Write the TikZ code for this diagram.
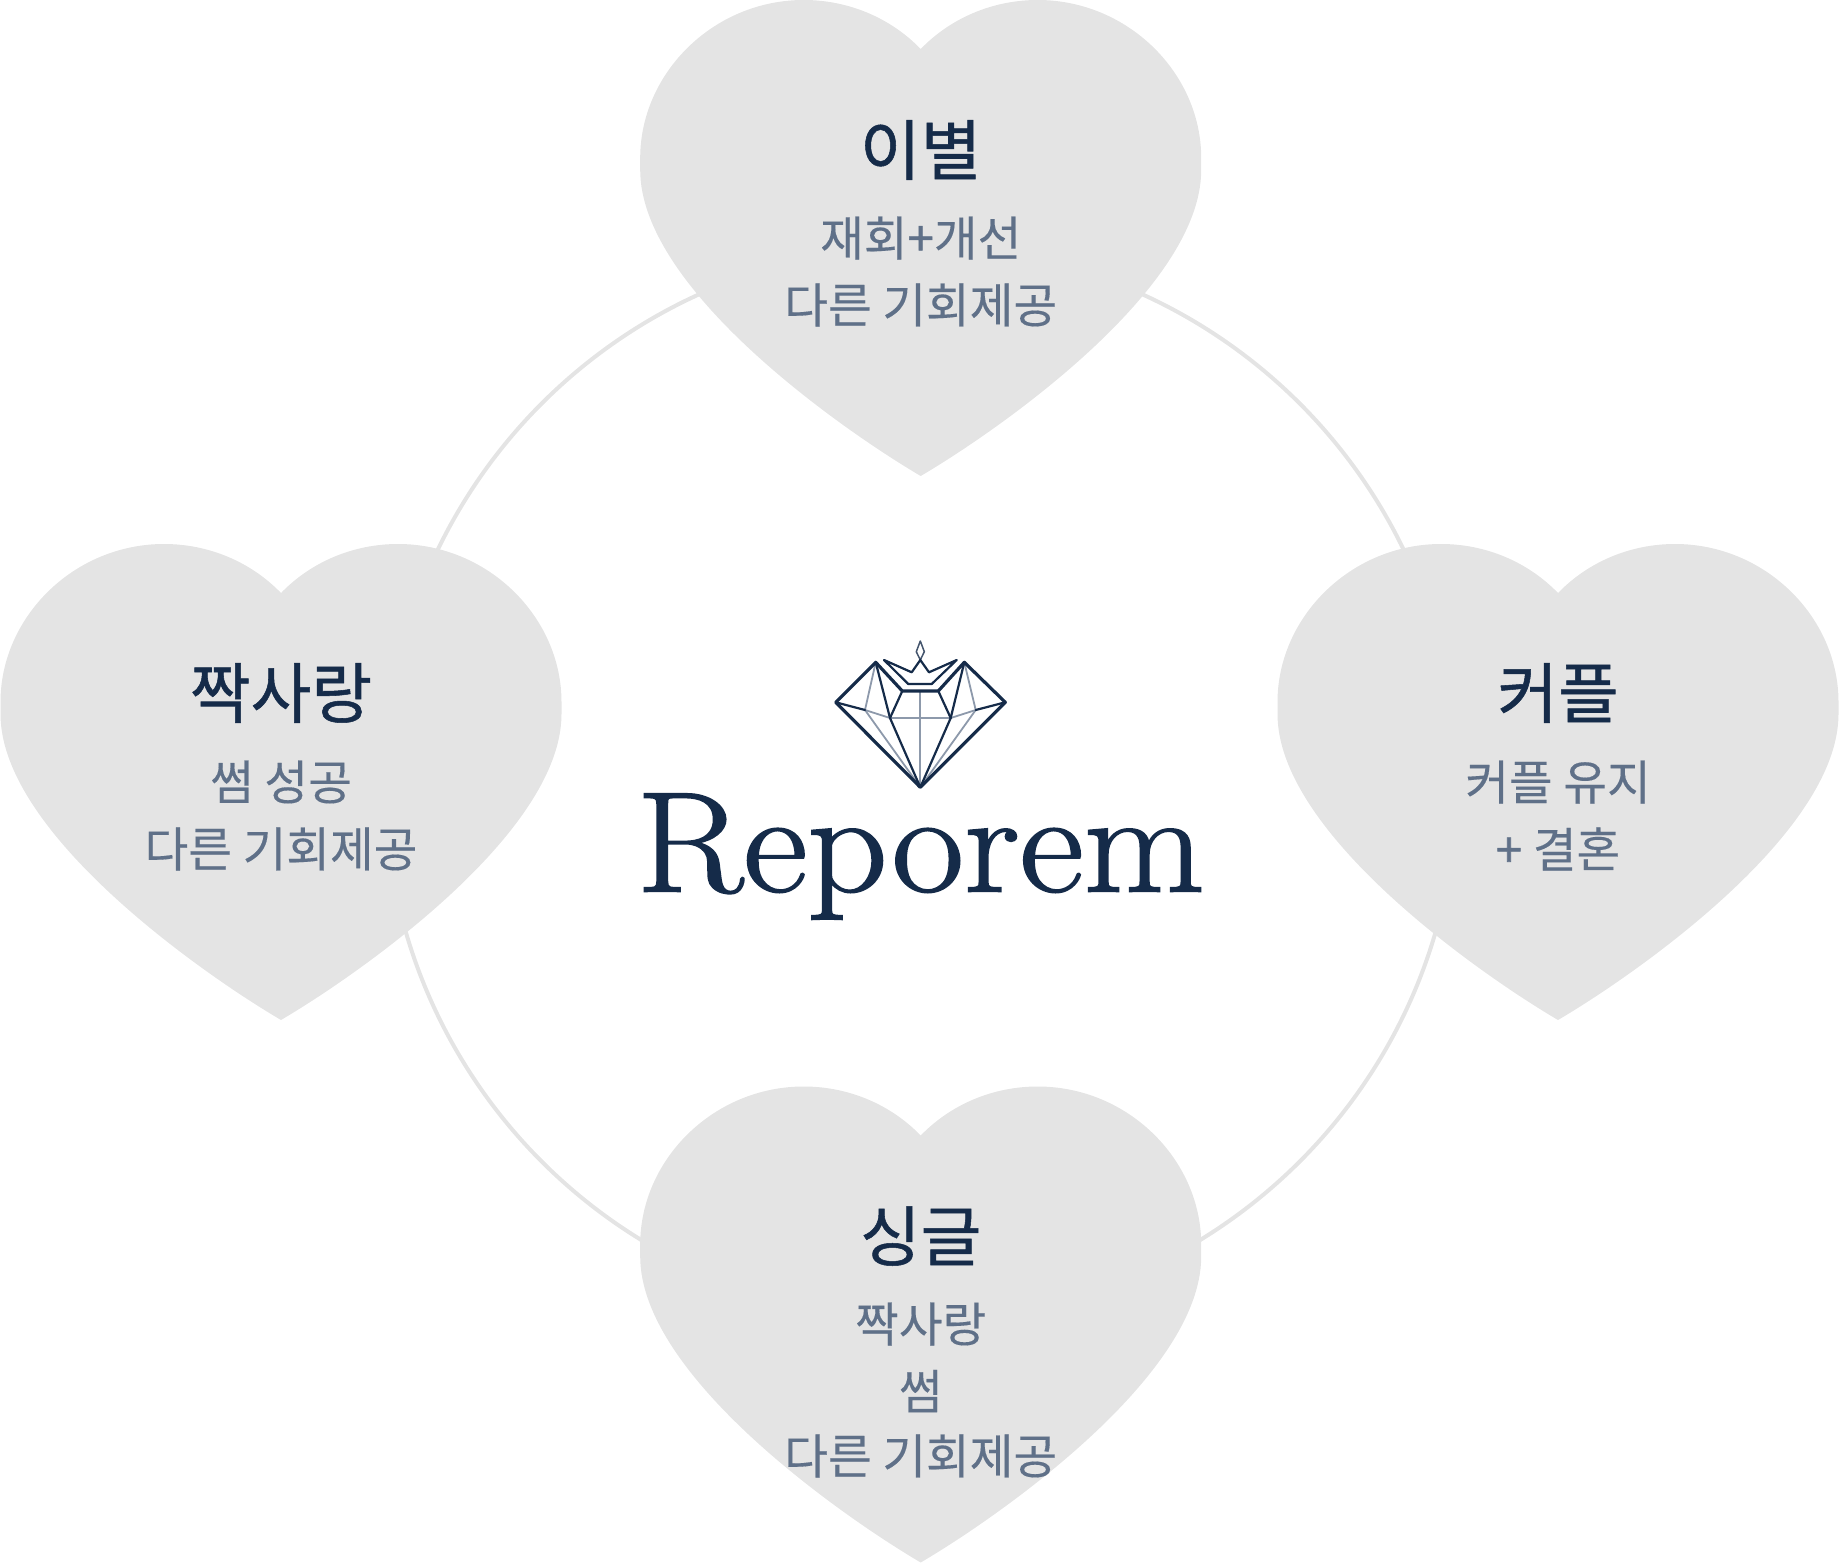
\documentclass[tikz,border=0pt]{standalone}
\usepackage{fontspec}
\newfontfamily\krfont[FakeBold=0.25]{Noto Sans CJK KR}
\newfontfamily\krtitle[FakeBold=0.8]{Noto Sans CJK KR}
\newfontfamily\krplus[FakeBold=1.2]{Noto Sans CJK KR}
\newfontfamily\logofont[FakeBold=1.2]{Latin Modern Roman}
\definecolor{heartgrey}{HTML}{E4E4E4}
\definecolor{navy}{HTML}{152B49}
\definecolor{slate}{HTML}{5F7088}
\definecolor{lightnavy}{HTML}{8D99AB}
\tikzset{
  heartshape/.pic={
    \fill[heartgrey] (0,49) .. controls (-30,18) and (-72,0) .. (-117,0)
      .. controls (-207,0) and (-280.5,73) .. (-280.5,158)
      -- (-280.5,170)
      .. controls (-280.5,290) and (-75,432) .. (0,476)
      .. controls (75,432) and (280.5,290) .. (280.5,170)
      -- (280.5,158)
      .. controls (280.5,73) and (207,0) .. (117,0)
      .. controls (72,0) and (30,18) .. (0,49) -- cycle;
  },
  ringline/.style={circle,draw=heartgrey,line width=4pt,minimum size=1072pt,inner sep=0pt},
  titletext/.style={text=navy,font=\krtitle\fontsize{66}{66}\selectfont,inner sep=0pt},
  subtext/.style={text=slate,font=\krfont\fontsize{47.5}{47.5}\selectfont,inner sep=0pt},
  wordmark/.style={text=navy,font=\logofont\fontsize{143}{143}\selectfont,inner sep=0pt,xscale=1.1,anchor=base,transform shape},
  gemdark/.style={draw=navy,line width=3.2pt,line join=round,line cap=round},
  gemmid/.style={draw=navy,line width=2.2pt,line join=round,line cap=round},
  gemlight/.style={draw=lightnavy,line width=1.8pt,line join=round,line cap=round},
  gemthin/.style={draw=navy!80,line width=1.5pt,line join=round},
}
\begin{document}
\begin{tikzpicture}[x=1pt,y=-1pt]
\useasboundingbox (0,0) rectangle (1839,1563);
\node[ringline] (ring) at (920.7,782.5) {};
\pic at (920.7,0) {heartshape};
\pic at (281,544) {heartshape};
\pic at (1558,544) {heartshape};
\pic at (920.7,1086.5) {heartshape};
% top heart
\node[titletext] (t1) at (920.7,150) {이별};
\node[subtext] (s1a) at (920.7,238) {재회{\krplus +}개선};
\node[subtext] (s1b) at (920.7,305) {다른 기회제공};
% left heart
\node[titletext] (t2) at (281,693) {짝사랑};
\node[subtext] (s2a) at (281,782) {썸 성공};
\node[subtext] (s2b) at (281,849) {다른 기회제공};
% right heart
\node[titletext] (t3) at (1558,693) {커플};
\node[subtext] (s3a) at (1558,782) {커플 유지};
\node[subtext] (s3b) at (1558,849) {{\krplus +} 결혼};
% bottom heart
\node[titletext] (t4) at (920.7,1236) {싱글};
\node[subtext] (s4a) at (920.7,1324) {짝사랑};
\node[subtext] (s4b) at (920.7,1391) {썸};
\node[subtext] (s4c) at (920.7,1456) {다른 기회제공};
% logo word
\node[wordmark] (logo) at (920.7,891.5) {Reporem};
% gem
\coordinate (L) at (835.7,702.3);
\coordinate (TL) at (875.7,662.3);
\coordinate (IL) at (902.3,691);
\coordinate (IR) at (938.3,691);
\coordinate (TR) at (964.3,662.3);
\coordinate (R) at (1005.3,702.3);
\coordinate (B) at (920.3,787.3);
\coordinate (C) at (920.3,691);
\coordinate (WL) at (890,718);
\coordinate (WR) at (950.7,718);
\coordinate (ML) at (865,710);
\coordinate (MR) at (975.7,710);
\draw[gemlight] (C) -- (B);
\draw[gemlight] (WL) -- (WR);
\draw[gemlight] (TL) -- (ML) -- (B);
\draw[gemlight] (TR) -- (MR) -- (B);
\draw[gemlight] (ML) -- (WL);
\draw[gemlight] (MR) -- (WR);
\draw[gemmid] (L) -- (ML);
\draw[gemmid] (R) -- (MR);
\draw[gemmid] (TL) -- (WL) -- (B) -- (WR) -- (TR);
\draw[gemmid] (IL) -- (WL);
\draw[gemmid] (IR) -- (WR);
\draw[gemdark] (B) -- (L) -- (TL) -- (IL) -- (IR) -- (TR) -- (R) -- cycle;
\coordinate (FA) at (920.3,641);
\coordinate (FB) at (924.3,651.7);
\coordinate (FC) at (920.3,660);
\coordinate (FD) at (916.3,651.7);
\coordinate (CA) at (884,660);
\coordinate (CB) at (911.7,672.3);
\coordinate (CC) at (929,672.3);
\coordinate (CD) at (956.7,660);
\coordinate (CE) at (931.7,684);
\coordinate (CF) at (908.3,684);
\draw[gemthin] (FA) -- (FB) -- (FC) -- (FD) -- cycle;
\draw[gemmid] (CA) -- (CB) -- (FC) -- (CC) -- (CD) -- (CE) -- (CF) -- cycle;
\end{tikzpicture}
\end{document}
